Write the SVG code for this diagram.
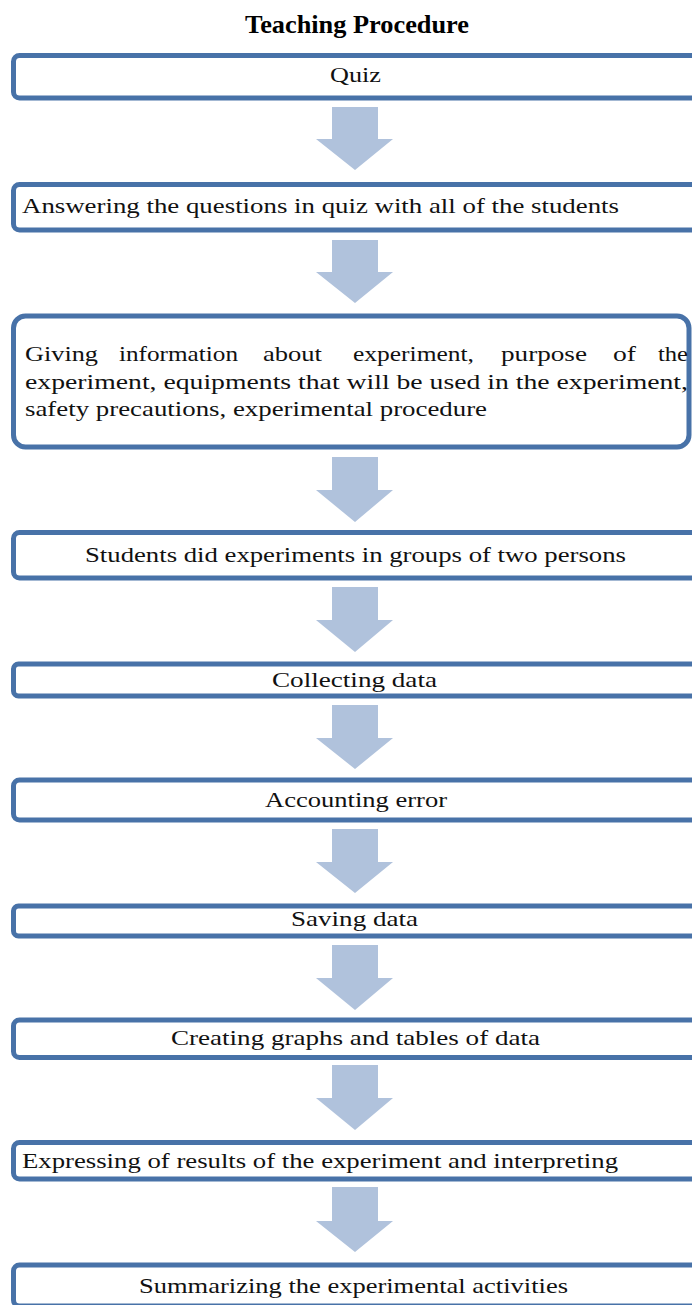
<svg xmlns="http://www.w3.org/2000/svg" width="692" height="1305" viewBox="0 0 692 1305">
<style>
.box{fill:#fff;stroke:#4872a8;stroke-width:5}
.t{font-family:"Liberation Serif","Times New Roman",serif;font-size:22px;fill:#111}
.title{font-family:"Liberation Serif","Times New Roman",serif;font-size:26px;font-weight:bold;fill:#000}
.arr{fill:#b0c2dc}
</style>
<rect width="692" height="1305" fill="#fff"/>
<text class="title" x="245" y="33" textLength="224" lengthAdjust="spacingAndGlyphs">Teaching Procedure</text>
<g id="connectors">
<polygon class="arr" points="332,107 378,107 378,139 393,139 355,170 316,139 332,139"/>
<polygon class="arr" points="332,240 378,240 378,272 393,272 355,303 316,272 332,272"/>
<polygon class="arr" points="332,457 378,457 378,490 393,490 355,522 316,490 332,490"/>
<polygon class="arr" points="332,587 378,587 378,620 393,620 355,652 316,620 332,620"/>
<polygon class="arr" points="332,705 378,705 378,738 393,738 355,769 316,738 332,738"/>
<polygon class="arr" points="332,829 378,829 378,862 393,862 355,893 316,862 332,862"/>
<polygon class="arr" points="332,945 378,945 378,978 393,978 355,1010 316,978 332,978"/>
<polygon class="arr" points="332,1065 378,1065 378,1098 393,1098 355,1130 316,1098 332,1098"/>
<polygon class="arr" points="332,1187 378,1187 378,1221 393,1221 355,1252 316,1221 332,1221"/>
</g>
<g id="n1"><rect class="box" x="13.5" y="55.5" width="700" height="42.5" rx="6"/><text class="t" x="330" y="82" textLength="51" lengthAdjust="spacingAndGlyphs">Quiz</text></g>
<g id="n2"><rect class="box" x="13.5" y="184.5" width="700" height="45.5" rx="6"/><text class="t" x="22" y="213" textLength="597" lengthAdjust="spacingAndGlyphs">Answering  the questions in quiz with all of the students</text></g>
<g id="n3"><rect class="box" x="13.5" y="316" width="675.5" height="131" rx="12"/>
<text class="t" x="25" y="361" textLength="73" lengthAdjust="spacingAndGlyphs">Giving</text>
<text class="t" x="119" y="361" textLength="119" lengthAdjust="spacingAndGlyphs">information</text>
<text class="t" x="263" y="361" textLength="59" lengthAdjust="spacingAndGlyphs">about</text>
<text class="t" x="353" y="361" textLength="121" lengthAdjust="spacingAndGlyphs">experiment,</text>
<text class="t" x="501" y="361" textLength="86" lengthAdjust="spacingAndGlyphs">purpose</text>
<text class="t" x="613" y="361" textLength="23" lengthAdjust="spacingAndGlyphs">of</text>
<text class="t" x="658" y="361" textLength="30" lengthAdjust="spacingAndGlyphs">the</text>
<text class="t" x="25" y="389" textLength="663" lengthAdjust="spacingAndGlyphs">experiment, equipments that will be used in the experiment,</text>
<text class="t" x="25" y="416" textLength="462" lengthAdjust="spacingAndGlyphs">safety precautions, experimental procedure</text></g>
<g id="n4"><rect class="box" x="13.5" y="532.5" width="700" height="45.5" rx="6"/><text class="t" x="85" y="562" textLength="541" lengthAdjust="spacingAndGlyphs">Students did experiments in groups of two persons</text></g>
<g id="n5"><rect class="box" x="13.5" y="664" width="700" height="32" rx="5"/><text class="t" x="272" y="687" textLength="165" lengthAdjust="spacingAndGlyphs">Collecting  data</text></g>
<g id="n6"><rect class="box" x="13.5" y="780" width="700" height="40" rx="6"/><text class="t" x="265" y="807" textLength="182" lengthAdjust="spacingAndGlyphs">Accounting error</text></g>
<g id="n7"><rect class="box" x="13.5" y="906" width="700" height="30" rx="5"/><text class="t" x="291" y="926" textLength="127" lengthAdjust="spacingAndGlyphs">Saving data</text></g>
<g id="n8"><rect class="box" x="13.5" y="1020" width="700" height="37.5" rx="6"/><text class="t" x="171" y="1045" textLength="369" lengthAdjust="spacingAndGlyphs">Creating graphs and tables of data</text></g>
<g id="n9"><rect class="box" x="13.5" y="1142.5" width="700" height="36.5" rx="6"/><text class="t" x="22" y="1168" textLength="596" lengthAdjust="spacingAndGlyphs">Expressing  of results of the experiment and interpreting</text></g>
<g id="n10"><rect class="box" x="13.5" y="1265" width="700" height="41" rx="6"/><text class="t" x="139" y="1293" textLength="429" lengthAdjust="spacingAndGlyphs">Summarizing the experimental activities</text></g>
</svg>
